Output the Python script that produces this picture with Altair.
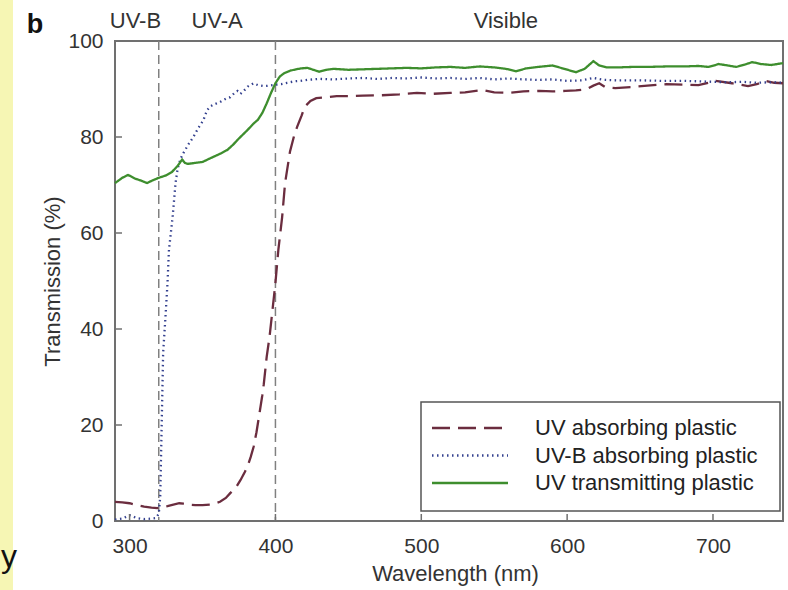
import altair as alt
import pandas as pd

series_names = ["UV absorbing plastic", "UV-B absorbing plastic", "UV transmitting plastic"]
series_colors = ["#6b2d3f", "#34418f", "#3e8e2e"]
series_dash = [[18, 8], [1.5, 3.5], [1, 0]]

# UV absorbing plastic (dashed)
uvabs_wl = [290, 295, 300, 305, 310, 315, 319, 323, 326, 330, 334, 337, 341, 345, 350, 355, 359, 362,
            366, 369, 373, 376, 379, 381, 383, 385, 387, 389, 391, 392, 394, 396, 398, 400, 402, 404.6,
            406.6, 410, 413, 415, 418, 420, 424, 428, 435, 442, 450, 460, 473, 485, 497, 508, 520, 530,
            542, 550, 560, 570, 581, 590, 599, 606, 613, 618, 622, 626, 633, 644, 655, 668, 680, 690,
            702, 713, 724, 730, 736, 742, 748]
uvabs_t = [4.0, 3.9, 3.7, 3.3, 3.0, 2.8, 2.7, 2.9, 3.1, 3.4, 3.7, 3.6, 3.4, 3.3, 3.3, 3.4, 3.7, 4.0,
           4.8, 5.8, 7.0, 8.5, 10.2, 11.5, 13.3, 15.4, 18.5, 22.3, 26.2, 28.5, 34.2, 38.5, 44.0, 49.6, 56.5, 63.3,
           70.4, 77.0, 80.5, 82.2, 84.5, 86.3, 87.5, 88.1, 88.3, 88.5, 88.5, 88.6, 88.7, 88.9, 89.2, 89.0, 89.2, 89.3,
           89.8, 89.3, 89.2, 89.5, 89.6, 89.5, 89.6, 89.7, 89.9, 90.7, 91.2, 90.4, 90.2, 90.4, 90.7, 91.0, 90.9, 90.8,
           91.7, 91.2, 90.6, 91.0, 91.7, 91.3, 91.2]

# UV-B absorbing plastic (dotted)
uvbabs_wl = [290, 295, 300, 305, 310, 315, 318, 320, 321, 322, 323, 324.6, 326, 327, 329.5, 331.5, 333,
             335, 337, 340, 343.7, 347, 350.6, 353, 355, 358, 362, 366, 369, 372, 374, 376, 378, 381, 385,
             388, 392, 396, 400, 404, 408, 413, 417, 422, 430, 440, 450, 460, 470, 480, 490, 500, 510, 520,
             530, 540, 550, 560, 570, 580, 590, 600, 610, 618, 625, 635, 650, 665, 680, 690, 700, 710, 720,
             730, 740, 748]
uvbabs_t = [0.3, 0.5, 1.2, 0.6, 0.4, 0.5, 0.6, 1.5, 5.0, 20.0, 35.0, 42.5, 49.6, 56.5, 63.3, 70.4, 73.5,
            75.5, 76.7, 78.3, 80.0, 81.8, 83.5, 85.5, 86.3, 86.8, 87.3, 88.0, 88.3, 89.2, 89.6, 89.0, 89.5, 90.5, 91.2,
            90.8, 90.6, 90.7, 90.9, 91.0, 91.3, 91.6, 91.7, 91.9, 92.1, 92.0, 92.2, 92.3, 92.1, 92.3, 92.2, 92.4, 92.2, 92.3,
            92.1, 92.3, 92.0, 92.2, 92.0, 91.9, 92.0, 91.7, 91.8, 92.3, 91.9, 91.8, 91.8, 91.7, 91.7, 91.6, 91.5, 91.4, 91.5,
            91.3, 91.4, 91.3]

# UV transmitting plastic (solid)
uvt_wl = [290, 295, 299, 304, 308, 312, 316, 320, 325, 329, 333, 336, 338, 340, 345, 350, 357, 362, 367,
          371, 374, 378, 381, 385, 388, 391, 394, 397, 400, 403, 406, 410, 414, 418, 422, 426, 430, 435, 440,
          450, 460, 470, 480, 490, 500, 510, 520, 530, 540, 550, 558, 565, 572, 580, 590, 598, 606, 612, 618,
          622, 627, 635, 645, 655, 668, 680, 690, 697, 704, 710, 716, 722, 727, 733, 740, 748]
uvt_t = [70.4, 71.5, 72.1, 71.3, 70.9, 70.4, 71.0, 71.5, 72.0, 72.7, 74.0, 75.3, 74.6, 74.4, 74.6, 74.8, 75.8, 76.5, 77.3,
         78.4, 79.4, 80.6, 81.5, 82.8, 83.6, 85.0, 87.0, 89.2, 91.2, 92.6, 93.3, 93.8, 94.1, 94.3, 94.4, 94.0, 93.6, 94.0, 94.2,
         94.0, 94.1, 94.2, 94.3, 94.4, 94.3, 94.5, 94.6, 94.4, 94.7, 94.5, 94.2, 93.7, 94.3, 94.6, 94.9, 94.2, 93.5, 94.2, 95.8,
         94.9, 94.5, 94.5, 94.6, 94.6, 94.7, 94.7, 94.8, 94.6, 95.2, 94.9, 94.6, 95.1, 95.6, 95.2, 95.0, 95.4]

x_ticks = [300, 400, 500, 600, 700]
y_ticks = [0, 20, 40, 60, 80, 100]
boundary_wl = [320, 400]
band_labels = ["UV-B", "UV-A", "Visible"]
band_label_wl = [304, 360, 558]
panel_letter = ["b"]
stray_letter = ["y"]

FONT = "Liberation Sans"
TXT = "#333333"
FRAME = "#707070"

rows = []
for name, wls, ts in [(series_names[0], uvabs_wl, uvabs_t),
                      (series_names[1], uvbabs_wl, uvbabs_t),
                      (series_names[2], uvt_wl, uvt_t)]:
    for w, t in zip(wls, ts):
        rows.append({"series": name, "wl": w, "t": t})
df = pd.DataFrame(rows)

xscale = alt.Scale(domain=[290, 748], nice=False, zero=False)
yscale = alt.Scale(domain=[0, 100], nice=False, zero=True)
X_AX = alt.Axis(values=x_ticks, labelPadding=14, titleX=340, titleY=52,
                titleBaseline="middle", titleAlign="center")
Y_AX = alt.Axis(values=y_ticks, labelPadding=12, titleX=-63, titleY=240,
                titleBaseline="middle", titleAlign="center", titleAngle=270)
XT = "Wavelength (nm)"
YT = "Transmission (%)"
color_scale = alt.Scale(domain=series_names, range=series_colors)
dash_scale = alt.Scale(domain=series_names, range=series_dash)

strip = alt.Chart(pd.DataFrame({"k": [0]})).mark_rect(color="#f6f6b4").encode(
    x=alt.value(-115), x2=alt.value(-102), y=alt.value(-41), y2=alt.value(549))

stray = alt.Chart(pd.DataFrame({"s": stray_letter})).mark_text(
    font=FONT, fontSize=32, color="#111111", align="left", baseline="alphabetic").encode(
    x=alt.value(-114), y=alt.value(526), text="s:N")

letter = alt.Chart(pd.DataFrame({"s": panel_letter})).mark_text(
    font=FONT, fontSize=27, fontWeight="bold", color="#111111", align="center", baseline="alphabetic").encode(
    x=alt.value(-80), y=alt.value(-8), text="s:N")

bounds = alt.Chart(pd.DataFrame({"wl": boundary_wl})).mark_rule(
    color="#808080", strokeWidth=1.5, strokeDash=[9, 5]).encode(
    x=alt.X("wl:Q", scale=xscale, axis=X_AX, title=XT), y=alt.value(0), y2=alt.value(480))

lines = alt.Chart(df).mark_line(strokeWidth=2.3).encode(
    x=alt.X("wl:Q", scale=xscale, axis=X_AX, title=XT),
    y=alt.Y("t:Q", scale=yscale, axis=Y_AX, title=YT),
    color=alt.Color("series:N", scale=color_scale, legend=None),
    strokeDash=alt.StrokeDash("series:N", scale=dash_scale, legend=None),
    order=alt.Order("wl:Q"),
)

xt = alt.Chart(pd.DataFrame({"wl": x_ticks})).mark_rule(color=FRAME, strokeWidth=1.5).encode(
    x=alt.X("wl:Q", scale=xscale, axis=X_AX, title=XT), y=alt.value(480), y2=alt.value(473))
yt = alt.Chart(pd.DataFrame({"t": y_ticks})).mark_rule(color=FRAME, strokeWidth=1.5).encode(
    y=alt.Y("t:Q", scale=yscale, axis=Y_AX, title=YT), x=alt.value(0), x2=alt.value(7))

bands = alt.Chart(pd.DataFrame({"wl": band_label_wl, "label": band_labels})).mark_text(
    font=FONT, fontSize=22, color=TXT, align="center", baseline="alphabetic").encode(
    x=alt.X("wl:Q", scale=xscale, axis=X_AX, title=XT), y=alt.value(-13), text="label:N")

# hand-drawn legend (box, line samples, labels)
leg_df = pd.DataFrame({"series": series_names, "idx": list(range(len(series_names)))})
leg_box = alt.Chart(pd.DataFrame({"k": [0]})).mark_rect(
    fill="white", stroke="#555555", strokeWidth=1.5).encode(
    x=alt.value(306), x2=alt.value(665), y=alt.value(361), y2=alt.value(470))
leg_sym = alt.Chart(leg_df).transform_calculate(py="387 + datum.idx * 27.5").mark_rule(strokeWidth=2.5).encode(
    x=alt.value(317), x2=alt.value(393), y=alt.Y("py:Q", scale=None),
    color=alt.Color("series:N", scale=color_scale, legend=None),
    strokeDash=alt.StrokeDash("series:N", scale=dash_scale, legend=None))
leg_txt = alt.Chart(leg_df).transform_calculate(py="387 + datum.idx * 27.5").mark_text(
    font=FONT, fontSize=22, color="#222222", align="left", baseline="middle").encode(
    x=alt.value(420), y=alt.Y("py:Q", scale=None), text="series:N")

chart = alt.layer(strip, stray, letter, bounds, lines, xt, yt, bands, leg_box, leg_sym, leg_txt).properties(
    width=668, height=480,
    padding={"left": 115, "top": 41, "right": 5, "bottom": 69},
    autosize=alt.AutoSizeParams(type="none"),
    background="white",
).configure_view(stroke=FRAME, strokeWidth=2).configure_axis(
    grid=False, domain=False, ticks=False, labelFont=FONT, labelFontSize=21, labelColor=TXT,
    titleFont=FONT, titleFontSize=22, titleFontWeight="normal", titleColor=TXT,
)

chart.save("out.html", embed_options={"renderer": "svg", "actions": False})
